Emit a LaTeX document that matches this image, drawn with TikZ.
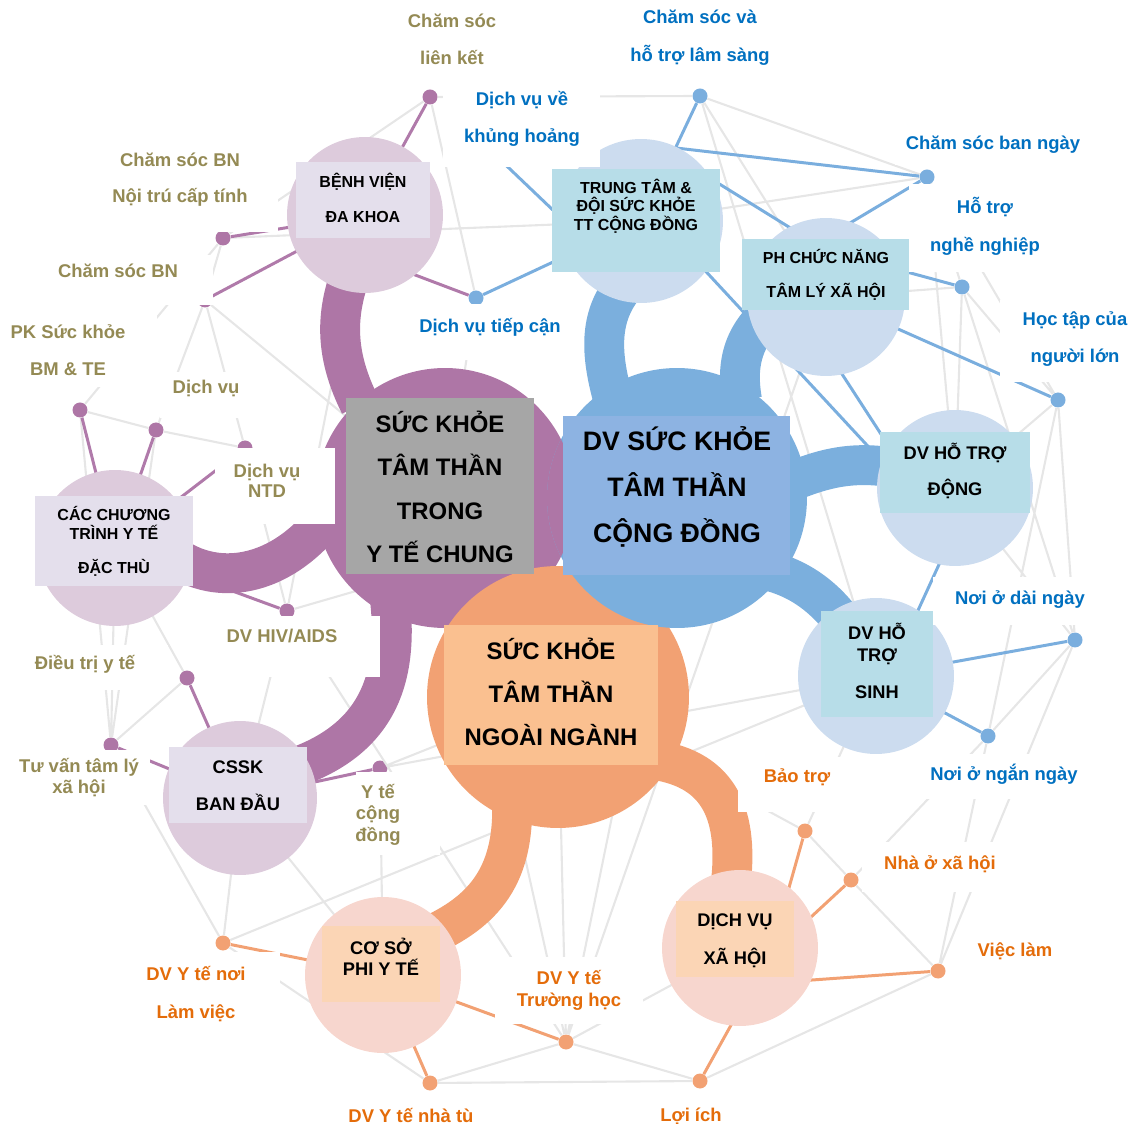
\documentclass[tikz,border=0pt]{standalone}
\usepackage{fontspec}
\setmainfont{Liberation Sans}
\newcommand\myfs[2]{\fontsize{#1}{#2}\selectfont\bfseries}
\definecolor{pbig}{HTML}{AE76A6}
\definecolor{bbig}{HTML}{7BAFDD}
\definecolor{obig}{HTML}{F2A173}
\definecolor{psat}{HTML}{DDCBDC}
\definecolor{bsat}{HTML}{CCDCEF}
\definecolor{osat}{HTML}{F7D6CE}
\definecolor{pbox}{HTML}{E4DFEC}
\definecolor{bbox}{HTML}{B7DDE8}
\definecolor{obox}{HTML}{FBD5B5}
\definecolor{grect}{HTML}{A6A6A6}
\definecolor{brect}{HTML}{8DB3E2}
\definecolor{orect}{HTML}{FAC090}
\definecolor{meshc}{HTML}{E6E6E6}
\definecolor{olivet}{HTML}{948A54}
\definecolor{bluet}{HTML}{0070C0}
\definecolor{oranget}{HTML}{E46C0A}
\definecolor{pline}{HTML}{B07AAA}
\definecolor{bline}{HTML}{7AAEDE}
\definecolor{oline}{HTML}{F2A173}
\begin{document}
\begin{tikzpicture}[x=0.02cm,y=-0.02cm,
  meshline/.style={draw=meshc, line width=1.2pt},
  pl/.style={draw=pline, line width=1.7pt},
  bl/.style={draw=bline, line width=1.7pt},
  ol/.style={draw=oline, line width=1.7pt},
  pdot/.style={circle, fill=pbig, inner sep=0pt, minimum size=0.3cm},
  bdot/.style={circle, fill=bline, inner sep=0pt, minimum size=0.3cm},
  odot/.style={circle, fill=obig, inner sep=0pt, minimum size=0.3cm},
  band/.style={line width=22.7pt, line cap=butt},
  sat/.style={circle, inner sep=0pt},
  rect/.style={rectangle, inner sep=0pt},
  txt/.style={align=center, inner sep=0pt, text=black},
  lab/.style={align=center, inner sep=0pt}
]
\useasboundingbox (0,0) rectangle (1136,1124);
% centres
\coordinate (cP) at (445,498);
\coordinate (cB) at (677,498);
\coordinate (cO) at (558,697);
\coordinate (cBV) at (365,215);
\coordinate (cTT) at (641,221);
\coordinate (cPH) at (826,297);
\coordinate (cDG) at (955,488);
\coordinate (cSH) at (876,676);
\coordinate (cCC) at (115,548);
\coordinate (cCS) at (240,798);
\coordinate (cCO) at (383,975);
\coordinate (cXH) at (740,948);
% helper points
\coordinate (cBVx) at (365,256);
\coordinate (cTTn) at (650,145);
\coordinate (cTTy) at (600,255);
\coordinate (cTTr) at (700,172);
\coordinate (cTTd) at (660,222);
\coordinate (cPHn) at (835,232);
\coordinate (cPHx) at (826,250);
\coordinate (cPHd) at (792,297);
\coordinate (cDGd) at (890,470);
\coordinate (cDGy) at (890,448);
\coordinate (cDGs) at (974,488);
\coordinate (cSHs) at (888,676);
\coordinate (cXHh) at (770,955);
\coordinate (cXHv) at (770,983);
% dots
\node[pdot] (PA) at (430,97) {};
\node[pdot] (PB) at (223,238) {};
\node[pdot] (PC) at (205,300) {};
\node[pdot] (PD) at (80,410) {};
\node[pdot] (PE) at (156,430) {};
\node[pdot] (PF) at (245,448) {};
\node[pdot] (PG) at (287,611) {};
\node[pdot] (PH) at (187,678) {};
\node[pdot] (PI) at (111,745) {};
\node[pdot] (PJ) at (380,768) {};
\node[bdot] (BA) at (700,96) {};
\node[bdot] (BB) at (927,177) {};
\node[bdot] (BC) at (962,287) {};
\node[bdot] (BD) at (1058,400) {};
\node[bdot] (BE) at (1075,640) {};
\node[bdot] (BF) at (988,736) {};
\node[bdot] (BG) at (476,298) {};
\node[bdot] (BH) at (490,150) {};
\node[odot] (OA) at (805,831) {};
\node[odot] (OB) at (851,880) {};
\node[odot] (OC) at (938,971) {};
\node[odot] (OD) at (700,1081) {};
\node[odot] (OE) at (566,1042) {};
\node[odot] (OF) at (430,1083) {};
\node[odot] (OG) at (223,943) {};
% background mesh
\draw[meshline] (PA)--(PB) (PA)--(BG) (PA)--(BA) (BA)--(BB) (BA)--(cPH) (BA)--(cSH)
  (BB)--(BC) (BB)--(cDG) (BB)--(BD) (BC)--(cPH) (BC)--(cDG) (BC)--(BE) (BC)--(BD)
  (BD)--(BE) (BD)--(cDG) (BD)--(BF) (BE)--(cDG) (BE)--(BF) (BE)--(OC) (BF)--(OC)
  (BF)--(OB) (BF)--(cSH) (OA)--(OB) (OA)--(cO) (OA)--(cSH) (OB)--(OC) (OC)--(OD)
  (OD)--(OE) (OE)--(OF) (OF)--(OD) (OE)--(cO) (OE)--(cB) (OE)--(cP) (OE)--(cPH)
  (OE)--(PG) (OE)--(cCO) (OE)--(cXH) (OF)--(cCO) (OG)--(cCS) (OG)--(PI) (OG)--(OF)
  (OG)--(cSH) (cCS)--(cCO) (PB)--(PC) (PB)--(PD) (PC)--(PE) (PC)--(PF) (PC)--(cP)
  (PD)--(PE) (PE)--(PF) (PD)--(PI) (PF)--(PG) (PG)--(cBV) (PG)--(cB) (PG)--(cCS)
  (cCC)--(PH) (cCC)--(PI) (PE)--(PI) (PH)--(PI) (PJ)--(cSH) (PJ)--(cCO) (PF)--(cP)
  (PJ)--(cO) (BG)--(cP) (PB)--(cTT) (BB)--(cTT);
% coloured links
\draw[pl] (PA)--(cBV) (PB)--(cBV) (PC)--(cBV) (cBVx)--(BG)
  (PD)--(cCC) (PE)--(cCC) (PF)--(cCC) (PG)--(cCC)
  (PH)--(cCS) (PI)--(cCS) (PJ)--(cCS);
\draw[bl] (BA)--(cTT) (cTTn)--(BB) (cPHn)--(BB) (cPHx)--(BC) (cPH)--(BD)
  (cTT)--(BG) (BH)--(cTTy) (cTTr)--(cPHx) (cTTd)--(cDGd) (cPHd)--(cDGy)
  (cDGs)--(cSHs) (cSH)--(BE) (cSH)--(BF);
\draw[ol] (OG)--(cCO) (cCO)--(OF) (cCO)--(OE) (cXHh)--(OD) (cXHh)--(OA)
  (cXHh)--(OB) (cXHv)--(OC);
% thick bands
\draw[band, pbig] (360,405) .. controls (335,355) and (335,315) .. (352,270);
\draw[band, pbig] (180,560) .. controls (230,590) and (300,570) .. (345,490);
\draw[band, pbig] (390,600) .. controls (400,690) and (370,750) .. (270,775);
\draw[band, obig] (512,800) .. controls (515,880) and (480,915) .. (420,940);
\draw[band, obig] (655,760) .. controls (720,770) and (740,815) .. (730,890);
\draw[band, bbig] (612,395) .. controls (600,350) and (600,315) .. (625,285);
\draw[band, bbig] (742,400) .. controls (735,360) and (745,330) .. (780,305);
\draw[band, bbig] (790,482) .. controls (820,470) and (850,460) .. (895,468);
\draw[band, bbig] (765,570) .. controls (800,578) and (828,598) .. (852,635);
% satellite circles
\node[sat, fill=psat, minimum size=3.12cm] (BV) at (cBV) {};
\node[sat, fill=bsat, minimum size=3.28cm] (TT) at (cTT) {};
\node[sat, fill=bsat, minimum size=3.16cm] (PHs) at (cPH) {};
\node[sat, fill=bsat, minimum size=3.12cm] (DG) at (cDG) {};
\node[sat, fill=bsat, minimum size=3.12cm] (SH) at (cSH) {};
\node[sat, fill=psat, minimum size=3.12cm] (CC) at (cCC) {};
\node[sat, fill=psat, minimum size=3.08cm] (CS) at (cCS) {};
\node[sat, fill=osat, minimum size=3.12cm] (CO) at (cCO) {};
\node[sat, fill=osat, minimum size=3.12cm] (XH) at (cXH) {};
% big circles
\node[sat, fill=pbig, minimum size=5.2cm] (PBIG) at (cP) {};
\node[sat, fill=obig, minimum size=5.24cm] (OBIG) at (cO) {};
\node[sat, fill=bbig, minimum size=5.2cm] (BBIG) at (cB) {};
\begin{scope}
  \clip (cB) circle [radius=130];
  \fill[pbig] (cP) circle [radius=130];
\end{scope}
% main rectangles
\node[rect, fill=grect, minimum width=3.76cm, minimum height=3.52cm] (GR) at (440,486) {};
\node[txt, font=\myfs{13.6}{24.8}] (GRt) at (440,487) {SỨC KHỎE\\TÂM THẦN\\TRONG\\Y TẾ CHUNG};
\node[rect, fill=brect, minimum width=4.54cm, minimum height=3.18cm] (BR) at (676.5,495.5) {};
\node[txt, font=\myfs{15.2}{26.1}] (BRt) at (677,487) {DV SỨC KHỎE\\TÂM THẦN\\CỘNG ĐỒNG};
\node[rect, fill=orect, minimum width=4.28cm, minimum height=2.8cm] (OR) at (551,695) {};
\node[txt, font=\myfs{13.6}{24.4}] (ORt) at (551,692) {SỨC KHỎE\\TÂM THẦN\\NGOÀI NGÀNH};
% satellite boxes
\node[rect, fill=pbox, minimum width=2.68cm, minimum height=1.52cm] (BVb) at (363,200) {};
\node[txt, font=\myfs{9.1}{19.8}] (BVt) at (363,198) {BỆNH VIỆN\\ĐA KHOA};
\node[rect, fill=bbox, minimum width=3.36cm, minimum height=2.06cm] (TTb) at (636,220.5) {};
\node[txt, font=\myfs{9.1}{10.5}] (TTt) at (636,206) {TRUNG TÂM \&\\ĐỘI SỨC KHỎE\\TT CỘNG ĐỒNG};
\node[rect, fill=bbox, minimum width=3.34cm, minimum height=1.42cm] (PHb) at (825.5,274.5) {};
\node[txt, font=\myfs{9.1}{19.3}] (PHt) at (826,275) {PH CHỨC NĂNG\\TÂM LÝ XÃ HỘI};
\node[rect, fill=bbox, minimum width=3.0cm, minimum height=1.62cm] (DGb) at (955,472.5) {};
\node[txt, font=\myfs{10.4}{21}] (DGt) at (955,471) {DV HỖ TRỢ\\ĐỘNG};
\node[rect, fill=bbox, minimum width=2.24cm, minimum height=2.12cm] (SHb) at (877,664) {};
\node[txt, font=\myfs{10.4}{12.5}] (SHt) at (877,661) {DV HỖ\\TRỢ\\[8.5pt]SINH};
\node[rect, fill=pbox, minimum width=3.16cm, minimum height=1.8cm] (CCb) at (114,541) {};
\node[txt, font=\myfs{9.1}{10.8}] (CCt) at (114,541) {CÁC CHƯƠNG\\TRÌNH Y TẾ\\[8.5pt]ĐẶC THÙ};
\node[rect, fill=pbox, minimum width=2.76cm, minimum height=1.52cm] (CSb) at (238,785) {};
\node[txt, font=\myfs{10.4}{21}] (CSt) at (238,786) {CSSK\\BAN ĐẦU};
\node[rect, fill=obox, minimum width=2.36cm, minimum height=1.52cm] (COb) at (381,964) {};
\node[txt, font=\myfs{10.4}{11.9}] (COt) at (381,957) {CƠ SỞ\\PHI Y TẾ};
\node[rect, fill=obox, minimum width=2.36cm, minimum height=1.52cm] (XHb) at (735,939) {};
\node[txt, font=\myfs{10.4}{21.5}] (XHt) at (735,941) {DỊCH VỤ\\XÃ HỘI};
% label backgrounds
\fill[white] (400,0) rectangle (505,82);
\fill[white] (105,143) rectangle (278,232);
\fill[white] (55,255) rectangle (213,305);
\fill[white] (0,314) rectangle (157,387);
\fill[white] (160,372) rectangle (245,418);
\fill[white] (215,448) rectangle (335,524);
\fill[white] (220,616) rectangle (380,677);
\fill[white] (20,645) rectangle (168,690);
\fill[white] (15,750) rectangle (150,805);
\fill[white] (356,772) rectangle (440,855);
\fill[white] (620,0) rectangle (780,82);
\fill[white] (443,82) rectangle (600,167);
\fill[white] (398,304) rectangle (583,360);
\fill[white] (895,125) rectangle (1095,165);
\fill[white] (909,184) rectangle (1060,272);
\fill[white] (1000,300) rectangle (1136,382);
\fill[white] (933,577) rectangle (1090,625);
\fill[white] (909,754) rectangle (1100,799);
\fill[white] (738,757) rectangle (858,812);
\fill[white] (862,842) rectangle (1015,892);
\fill[white] (960,928) rectangle (1070,972);
\fill[white] (135,952) rectangle (280,1035);
\fill[white] (495,957) rectangle (643,1024);
\fill[white] (330,1097) rectangle (490,1124);
\fill[white] (640,1098) rectangle (740,1124);
% labels
\node[lab, text=olivet, font=\myfs{10.5}{21}] (L1) at (452,39.5) {Chăm sóc\\liên kết};
\node[lab, text=olivet, font=\myfs{10.5}{20.4}] (L2) at (180,180) {Chăm sóc BN\\Nội trú cấp tính};
\node[lab, text=olivet, font=\myfs{10.5}{21}] (L3) at (118,271) {Chăm sóc BN};
\node[lab, text=olivet, font=\myfs{10.5}{21}] (L4) at (68,350.5) {PK Sức khỏe\\BM \& TE};
\node[lab, text=olivet, font=\myfs{10.5}{21}] (L5) at (206,388) {Dịch vụ};
\node[lab, text=olivet, font=\myfs{10.5}{11.3}] (L6) at (267,481) {Dịch vụ\\NTD};
\node[lab, text=olivet, font=\myfs{10.5}{21}] (L7) at (282,636) {DV HIV/AIDS};
\node[lab, text=olivet, font=\myfs{10.5}{21}] (L8) at (85,664) {Điều trị y tế};
\node[lab, text=olivet, font=\myfs{10.5}{11.9}] (L9) at (79,777.5) {Tư vấn tâm lý\\xã hội};
\node[lab, text=olivet, font=\myfs{10.5}{12.2}] (L10) at (378,814.5) {Y tế\\cộng\\đồng};
\node[lab, text=bluet, font=\myfs{10.5}{21.5}] (L11) at (700,38) {Chăm sóc và\\hỗ trợ lâm sàng};
\node[lab, text=bluet, font=\myfs{10.5}{21}] (L12) at (522,118.5) {Dịch vụ về\\khủng hoảng};
\node[lab, text=bluet, font=\myfs{10.5}{21}] (L13) at (490,327) {Dịch vụ tiếp cận};
\node[lab, text=bluet, font=\myfs{10.5}{21}] (L14) at (993,145) {Chăm sóc ban ngày};
\node[lab, text=bluet, font=\myfs{10.5}{21.5}] (L15) at (985,226) {Hỗ trợ\\nghề nghiệp};
\node[lab, text=bluet, font=\myfs{10.5}{21}] (L16) at (1075,339.5) {Học tập của\\người lớn};
\node[lab, text=bluet, font=\myfs{10.5}{21}] (L17) at (1020,600) {Nơi ở dài ngày};
\node[lab, text=bluet, font=\myfs{10.5}{21}] (L18) at (1004,774) {Nơi ở ngắn ngày};
\node[lab, text=oranget, font=\myfs{10.5}{21}] (L19) at (797,777) {Bảo trợ};
\node[lab, text=oranget, font=\myfs{10.5}{21}] (L20) at (940,864) {Nhà ở xã hội};
\node[lab, text=oranget, font=\myfs{10.5}{21}] (L21) at (1015,951) {Việc làm};
\node[lab, text=oranget, font=\myfs{10.5}{21.5}] (L22) at (196,994) {DV Y tế nơi\\Làm việc};
\node[lab, text=oranget, font=\myfs{10.5}{12.5}] (L23) at (569,990) {DV Y tế\\Trường học};
\node[lab, text=oranget, font=\myfs{10.5}{21}] (L24) at (411,1115) {DV Y tế nhà tù};
\node[lab, text=oranget, font=\myfs{10.5}{21}] (L25) at (691,1116) {Lợi ích};
\end{tikzpicture}
\end{document}
